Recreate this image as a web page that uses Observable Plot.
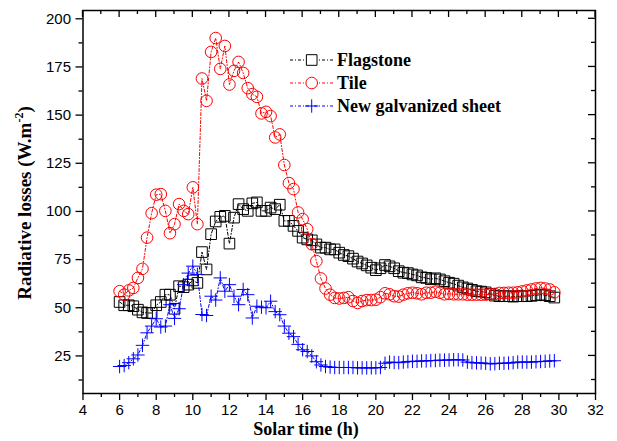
<!DOCTYPE html>
<html>
<head>
<meta charset="utf-8">
<script src="https://cdn.jsdelivr.net/npm/d3@7"></script>
<script src="https://cdn.jsdelivr.net/npm/@observablehq/plot@0.6"></script>
<style>
  html, body { margin: 0; padding: 0; background: white; }
  #chart svg { display: block; }
</style>
</head>
<body>
<div id="chart"></div>
<script>
// Solar time (h), one reading every 15 minutes
const times = [
  6, 6.25, 6.5, 6.75, 7, 7.25, 7.5, 7.75, 8, 8.25, 8.5, 8.75, 9, 9.25, 9.5, 9.75,
  10, 10.25, 10.5, 10.75, 11, 11.25, 11.5, 11.75, 12, 12.25, 12.5, 12.75, 13, 13.25, 13.5, 13.75,
  14, 14.25, 14.5, 14.75, 15, 15.25, 15.5, 15.75, 16, 16.25, 16.5, 16.75, 17, 17.25, 17.5, 17.75,
  18, 18.25, 18.5, 18.75, 19, 19.25, 19.5, 19.75, 20, 20.25, 20.5, 20.75, 21, 21.25, 21.5, 21.75,
  22, 22.25, 22.5, 22.75, 23, 23.25, 23.5, 23.75, 24, 24.25, 24.5, 24.75, 25, 25.25, 25.5, 25.75,
  26, 26.25, 26.5, 26.75, 27, 27.25, 27.5, 27.75, 28, 28.25, 28.5, 28.75, 29, 29.25, 29.5, 29.75
];
const flagstone = [
  53, 51.3, 51.3, 50.8, 49, 47.6, 47.3, 47.3, 51.3, 53, 56.8, 56.8, 49.5, 61.2, 60.7, 62,
  64.2, 62.9, 78.9, 69.9, 88.2, 94.8, 97.2, 97.7, 83.3, 96.8, 103.8, 101.2, 100.3, 104.2, 104.7, 100.3,
  100.3, 102, 101.2, 103.5, 95.1, 95.1, 92.5, 89.9, 86.4, 85.5, 85, 82.9, 81.2, 81.2, 80.3, 80.3,
  78.6, 77.4, 76.8, 75.5, 74, 73, 72, 70.8, 69.5, 70.5, 72.2, 71.5, 70.5, 69, 68.2, 68,
  67.3, 66.8, 65.8, 65.5, 64.8, 65.3, 64.7, 63.8, 63, 62.5, 61.5, 60.6, 60, 59.3, 58.6, 58.4,
  58, 57.2, 56.3, 56, 56, 56, 55.8, 56, 56, 56, 56.2, 56.5, 56.8, 56.5, 56, 55.3
];
const tile = [
  58.6, 56.8, 59, 60.3, 65.5, 70.2, 86.4, 99.1, 108.7, 109, 100.3, 88.7, 93.4, 103.8, 100.3, 98.6,
  112.5, 93.4, 169, 157.4, 182.8, 190, 174, 185.9, 165.9, 173, 177.6, 171.9, 164, 160.9, 159.5, 150.9,
  151.7, 149.5, 138.4, 140, 124.1, 114.7, 111.6, 99.5, 96, 90.8, 83, 74.2, 65.2, 60, 56.8, 55.1,
  54.8, 55.1, 55.5, 53.5, 52.5, 53.5, 54, 54, 54.2, 55.5, 57.5, 57, 56, 55.8, 56.8, 57.5,
  57.8, 57.5, 57, 57.8, 57.8, 58.3, 57.8, 57, 57.2, 57, 57, 57, 56.8, 56.8, 56.8, 56.8,
  56.8, 57, 57.2, 57.7, 57.7, 57.8, 57.8, 58, 58.5, 59, 59.5, 60, 60.3, 60, 59.5, 58
];
const galvanized = [
  19.5, 20, 21.5, 23.5, 25.5, 30.5, 37, 40.5, 44.3, 40, 40.5, 51.6, 44.5, 49.5, 62, 68,
  71.6, 67.3, 46.5, 46, 56, 54, 65.5, 58.6, 62, 56, 51.6, 59.5, 56.8, 44.7, 50.8, 50.3,
  50, 53.4, 48, 46.4, 40.5, 36.8, 35, 31, 28.2, 27.3, 25, 22, 20.3, 19.5, 19.2, 19,
  19, 19, 19, 19, 18.8, 18.8, 18.8, 18.8, 18.8, 19, 21.2, 21.8, 21.6, 21.5, 21.8, 22,
  22.2, 22.2, 22.4, 22.4, 22.6, 22.6, 22.8, 22.8, 22.9, 23, 23, 22.9, 21.8, 21.5, 21.4, 21.3,
  21.2, 20.9, 21, 21.2, 21.2, 21.3, 21.5, 21.8, 21.8, 21.8, 21.8, 22, 22.1, 22.2, 22.4, 22.5
];
const seriesNames = ["Flagstone", "Tile", "New galvanized sheet"];
const seriesColors = ["black", "red", "blue"];
const seriesSymbols = ["square", "circle", "plus"];
const xTickLabels = [4, 6, 8, 10, 12, 14, 16, 18, 20, 22, 24, 26, 28, 30, 32];
const xMinorTicks = [5, 7, 9, 11, 13, 15, 17, 19, 21, 23, 25, 27, 29, 31];
const yTickLabels = [25, 50, 75, 100, 125, 150, 175, 200];
const yMinorTicks = [12.5, 37.5, 62.5, 87.5, 112.5, 137.5, 162.5, 187.5];
const xTitle = "Solar time (h)";
const yTitle = "Radiative losses (W.m";

const valuesBySeries = [flagstone, tile, galvanized];
const data = valuesBySeries.map((vals, s) =>
  times.map((t, i) => ({t, v: vals[i], s: seriesNames[s]})));

const dash = "3,2,1,2";
const marks = [];
data.forEach((d, s) => {
  marks.push(Plot.line(d, {x: "t", y: "v", stroke: seriesColors[s], strokeWidth: 1, strokeDasharray: dash}));
  marks.push(Plot.dot(d, {x: "t", y: "v", symbol: seriesSymbols[s], r: s === 0 ? 6 : s === 2 ? 4.4 : 5.8,
    stroke: seriesColors[s], fill: "none", strokeWidth: 1}));
});

const blank = () => "";
const chart = Plot.plot({
  width: 617,
  height: 441,
  marginLeft: 82.5,
  marginRight: 22,
  marginTop: 10,
  marginBottom: 48,
  style: {fontFamily: "'Liberation Sans', Arial, sans-serif", fontSize: "15px", background: "white", color: "black"},
  x: {domain: [4, 32]},
  y: {domain: [5.5, 204.3]},
  marks: [
    ...marks,
    Plot.frame({stroke: "black", strokeWidth: 1.5}),
    Plot.axisX(xTickLabels, {anchor: "bottom", tickSize: 7, tickPadding: 4, label: null, tickFormat: d => String(d), strokeWidth: 1.3}),
    Plot.axisX(xMinorTicks, {anchor: "bottom", tickSize: 4, label: null, tickFormat: blank, strokeWidth: 1.3}),
    Plot.axisY(yTickLabels, {anchor: "left", tickSize: 7, tickPadding: 5, label: null, tickFormat: d => String(d), strokeWidth: 1.3}),
    Plot.axisY(yMinorTicks, {anchor: "left", tickSize: 4, label: null, tickFormat: blank, strokeWidth: 1.3})
  ]
});

const svg = d3.select(chart);
const serif = "'Liberation Serif', 'Times New Roman', serif";
const sx = chart.scale("x"), sy = chart.scale("y");
const topEdge = sy.apply(sy.domain[1]), rightEdge = sx.apply(sx.domain[1]);

// Inward mirror ticks on the top and right edges
const tg = svg.append("g").attr("stroke", "black").attr("stroke-width", 1.3);
xTickLabels.forEach(v => tg.append("line").attr("x1", sx.apply(v)).attr("x2", sx.apply(v)).attr("y1", topEdge).attr("y2", topEdge + 7));
xMinorTicks.forEach(v => tg.append("line").attr("x1", sx.apply(v)).attr("x2", sx.apply(v)).attr("y1", topEdge).attr("y2", topEdge + 4));
yTickLabels.forEach(v => tg.append("line").attr("y1", sy.apply(v)).attr("y2", sy.apply(v)).attr("x1", rightEdge).attr("x2", rightEdge - 7));
yMinorTicks.forEach(v => tg.append("line").attr("y1", sy.apply(v)).attr("y2", sy.apply(v)).attr("x1", rightEdge).attr("x2", rightEdge - 4));

// Axis titles
svg.append("text")
  .attr("x", 306).attr("y", 435)
  .attr("text-anchor", "middle")
  .attr("font-family", serif).attr("font-weight", "bold").attr("font-size", 18)
  .attr("fill", "black")
  .text(xTitle);

const yt = svg.append("text")
  .attr("transform", "translate(31,203) rotate(-90)")
  .attr("text-anchor", "middle")
  .attr("font-family", serif).attr("font-weight", "bold").attr("font-size", 19)
  .attr("fill", "black");
yt.append("tspan").text(yTitle);
yt.append("tspan").attr("dy", -8).attr("font-size", 12).text("-2");
yt.append("tspan").attr("dy", 8).text(")");

// Legend
const lg = svg.append("g");
seriesNames.forEach((name, s) => {
  const yy = 60 + s * 23;
  lg.append("line").attr("x1", 290).attr("x2", 333).attr("y1", yy).attr("y2", yy)
    .attr("stroke", seriesColors[s]).attr("stroke-width", 1).attr("stroke-dasharray", dash);
  const sym = d3.symbol().type(s === 0 ? d3.symbolSquare : s === 1 ? d3.symbolCircle : d3.symbolPlus)
    .size(s === 0 ? Math.PI * 36 : s === 2 ? Math.PI * 4.4 * 4.4 : Math.PI * 5.8 * 5.8);
  lg.append("path").attr("d", sym()).attr("transform", `translate(311.7,${yy})`)
    .attr("fill", s === 2 ? "none" : "white").attr("stroke", seriesColors[s]).attr("stroke-width", 1);
  lg.append("text").attr("x", 337).attr("y", yy + 6)
    .attr("text-anchor", "start")
    .attr("font-family", serif).attr("font-weight", "bold").attr("font-size", 18)
    .attr("fill", "black").text(name);
});

document.getElementById("chart").appendChild(chart);
</script>
</body>
</html>
